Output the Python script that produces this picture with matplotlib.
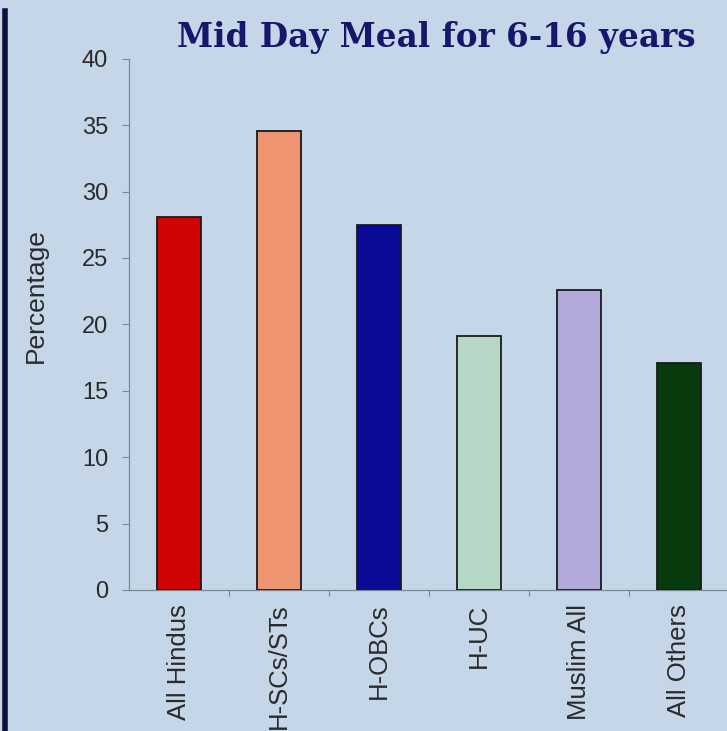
import matplotlib
matplotlib.use("Agg")
import matplotlib.pyplot as plt
from matplotlib.lines import Line2D

categories = ["All Hindus", "H-SCs/STs", "H-OBCs", "H-UC", "Muslim All", "All Others"]
values = [28.1, 34.6, 27.5, 19.1, 22.6, 17.1]
bar_colors = ["#d10404", "#ee9470", "#0a0a96", "#b6d6c6", "#b3a9da", "#073a0c"]
y_ticks = [0, 5, 10, 15, 20, 25, 30, 35, 40]

bg = "#c4d6e8"
sans = ["Liberation Sans", "DejaVu Sans"]
fig = plt.figure(figsize=(7.27, 7.31), dpi=100, facecolor=bg)
ax = fig.add_axes([0.1774, 0.193, 0.826, 0.7265], facecolor=bg)

x = range(len(categories))
ax.bar(x, values, width=0.44, color=bar_colors, edgecolor="#1a1a1a", linewidth=1.3, zorder=3)

ax.set_xlim(-0.5, len(categories) - 0.5)
ax.set_ylim(0, 40)
ax.set_yticks(y_ticks)
ax.set_yticklabels([str(t) for t in y_ticks], fontsize=17, color="#2a2a2a", family=sans)
ax.set_xticks(list(x))
ax.set_xticklabels(categories, rotation=90, fontsize=18.5, color="#2a2a2a",
                   family=sans, va="top")
ax.tick_params(axis="x", length=0, pad=10)
ax.set_xticks([i + 0.5 for i in range(len(categories) - 1)], minor=True)
ax.tick_params(axis="x", which="minor", length=4, color="#7a8894", width=0.8)
ax.tick_params(axis="y", length=5, color="#7a8894", width=0.8, pad=10)

for side in ["top", "right"]:
    ax.spines[side].set_visible(False)
for side in ["left", "bottom"]:
    ax.spines[side].set_color("#7a8894")
    ax.spines[side].set_linewidth(0.9)

fig.text(0.050, 0.595, "Percentage", rotation=90, ha="center", va="center",
         fontsize=19, color="#2a2a2a", family=sans)

fig.text(0.600, 0.949, "Mid Day Meal for 6-16 years", ha="center", va="center",
         fontsize=23.5, fontweight="bold", color="#16166a", family=["DejaVu Serif"])

# dark vertical rule along the left edge of the slide
fig.add_artist(Line2D([0.007, 0.007], [0.0, 0.985], transform=fig.transFigure,
                      color="#10103e", linewidth=4))

fig.savefig("out.png", dpi=100, facecolor=bg)
